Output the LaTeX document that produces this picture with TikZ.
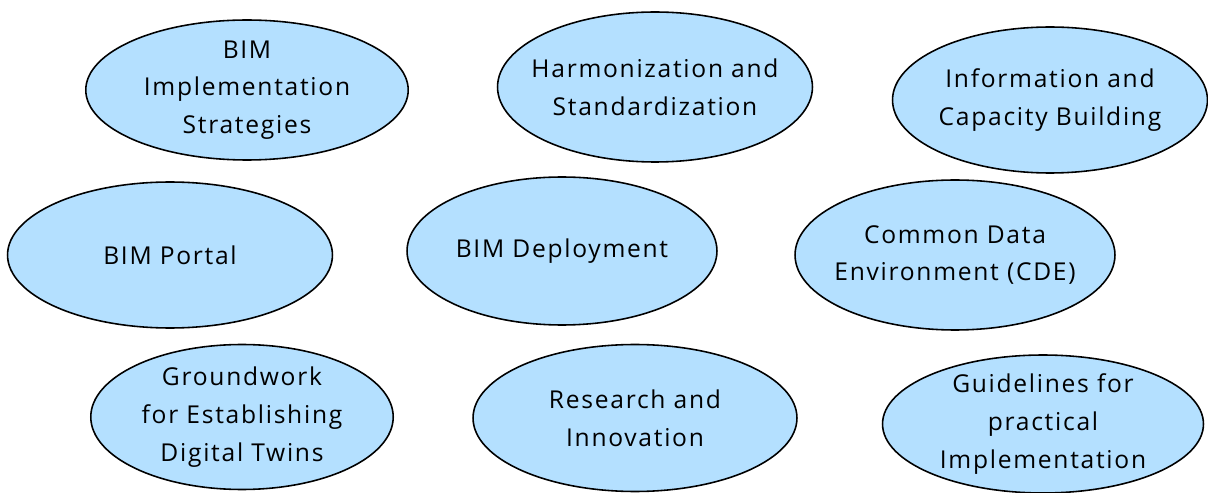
\documentclass[tikz,border=0pt]{standalone}
\usepackage{fontspec}
\setmainfont[LetterSpace=7]{Open Sans}
\usetikzlibrary{shapes.geometric}
\definecolor{bubblefill}{RGB}{180,224,255}
\begin{document}
\begin{tikzpicture}[x=0.02cm,y=-0.02cm,
				bubble/.style={ellipse,draw=black,line width=0.9pt,fill=bubblefill,
					inner sep=-15pt,align=center,
					font=\fontsize{14}{21.5}\selectfont}]
\useasboundingbox (0,0) rectangle (1208,493);
% top row
\node[bubble,minimum width=6.45cm,minimum height=2.8cm] (strategies) at (247,90)
	{BIM\\Implementation\\Strategies};
\node[bubble,minimum width=6.3cm,minimum height=3.0cm] (harmon) at (655,87)
	{Harmonization and\\Standardization};
\node[bubble,minimum width=6.3cm,minimum height=2.92cm] (capacity) at (1050,100)
	{Information and\\Capacity Building};
% middle row
\node[bubble,minimum width=6.5cm,minimum height=2.92cm] (portal) at (170,255)
	{BIM Portal};
\node[bubble,minimum width=6.2cm,minimum height=2.96cm] (deploy) at (562,251)
	{BIM Deployment};
\node[bubble,minimum width=6.4cm,minimum height=3.0cm] (cde) at (955,255)
	{Common Data\\Environment (CDE)};
% bottom row
\node[bubble,minimum width=6.05cm,minimum height=2.9cm] (twins) at (242,417)
	{Groundwork\\for Establishing\\Digital Twins};
\node[bubble,minimum width=6.48cm,minimum height=2.94cm] (research) at (635,418)
	{Research and\\Innovation};
\node[bubble,minimum width=6.42cm,minimum height=2.76cm] (guide) at (1043,424)
	{Guidelines for\\practical\\Implementation};
\end{tikzpicture}
\end{document}
